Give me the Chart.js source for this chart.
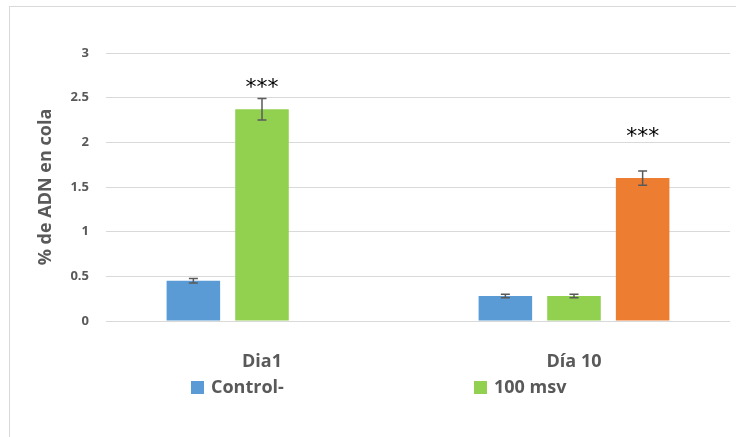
<!DOCTYPE html>
<html>
<head>
<meta charset="utf-8">
<script src="https://cdn.jsdelivr.net/npm/chart.js@4.4.1/dist/chart.umd.min.js"></script>
<style>
	html, body { margin: 0; padding: 0; background: #ffffff; overflow: hidden; }
	#frame {
		position: absolute; left: 9px; top: 6px; width: 800px; height: 500px;
		border-left: 1px solid #d9d9d9; border-top: 1px solid #d9d9d9;
	}
	#chart { position: absolute; left: 0; top: 0; }
</style>
</head>
<body>
<div id="frame"></div>
<canvas id="chart" width="736" height="437"></canvas>
<script>
	// Chart data
	const categories = ['Dia1', 'Día 10'];
	const controlValues = [0.45, 0.28];
	const msvValues = [2.37, 0.28];
	const day10Values = [null, 1.60];
	const controlErrors = [0.025, 0.02];
	const msvErrors = [0.12, 0.02];
	const day10Errors = [null, 0.08];
	const seriesLabels = ['Control-', '100 msv', '100 msv día 10'];
	const seriesColors = ['#5b9bd5', '#92d050', '#ed7d31'];
	const legendSeries = [0, 1];
	// significance marks: [dataset, category, text, value height]
	const starMarks = [[1, 0, '***', 2.64], [2, 1, '***', 2.09]];
	const yTicks = [0, 0.5, 1, 1.5, 2, 2.5, 3];

	const textColor = '#595959';
	const fontFamily = '"Open Sans", Lato, sans-serif';

	/**
	 * Draw error bars, significance marks and the legend.
	 */
	const extrasPlugin = {
		id: 'extras',
		afterDatasetsDraw: function(chart) {
			const ctx = chart.ctx;
			const y = chart.scales.y;
			const errors = [controlErrors, msvErrors, day10Errors];
			const values = [controlValues, msvValues, day10Values];

			ctx.save();
			ctx.strokeStyle = '#5a5a5a';
			ctx.lineWidth = 1.5;
			errors.forEach(function(errs, i) {
				const meta = chart.getDatasetMeta(i);
				errs.forEach(function(e, j) {
					if (e === null || values[i][j] === null) {
						return;
					}
					const x = meta.data[j].x;
					const top = y.getPixelForValue(values[i][j] + e);
					const bot = y.getPixelForValue(values[i][j] - e);
					ctx.beginPath();
					ctx.moveTo(x, top);
					ctx.lineTo(x, bot);
					ctx.moveTo(x - 4.5, top);
					ctx.lineTo(x + 4.5, top);
					ctx.moveTo(x - 4.5, bot);
					ctx.lineTo(x + 4.5, bot);
					ctx.stroke();
				});
			});

			// Significance stars
			ctx.fillStyle = '#000000';
			ctx.font = '22px "DejaVu Sans", sans-serif';
			ctx.textAlign = 'center';
			ctx.textBaseline = 'middle';
			starMarks.forEach(function(m) {
				const x = chart.getDatasetMeta(m[0]).data[m[1]].x;
				ctx.fillText(m[2], x, y.getPixelForValue(m[3]) + 3);
			});

			// Legend
			const legendX = [191, 474];
			const legendY = 388;
			ctx.font = 'bold 18px ' + fontFamily;
			ctx.textAlign = 'left';
			legendSeries.forEach(function(s, k) {
				ctx.fillStyle = seriesColors[s];
				ctx.fillRect(legendX[k], legendY - 7, 13, 13);
				ctx.fillStyle = textColor;
				ctx.fillText(seriesLabels[s], legendX[k] + 20, legendY);
			});
			ctx.restore();
		}
	};

	const ctx = document.getElementById('chart').getContext('2d');
	new Chart(ctx, {
		type: 'bar',
		data: {
			labels: categories,
			datasets: [controlValues, msvValues, day10Values].map(function(d, i) {
				return {
					label: seriesLabels[i],
					data: d,
					backgroundColor: seriesColors[i],
					borderWidth: 0,
					categoryPercentage: 0.66,
					barPercentage: 0.78
				};
			})
		},
		options: {
			responsive: false,
			animation: false,
			layout: {
				padding: { left: 0, right: 6, top: 53, bottom: 66 }
			},
			plugins: {
				legend: { display: false },
				tooltip: { enabled: false }
			},
			scales: {
				x: {
					grid: { display: false },
					border: { display: false },
					ticks: {
						color: textColor,
						padding: 22,
						font: { family: fontFamily, size: 18, weight: 'bold' }
					},
					afterFit: function(scale) {
						scale.height = 50;
					}
				},
				y: {
					min: 0,
					max: 3,
					afterBuildTicks: function(scale) {
						scale.ticks = yTicks.map(function(v) { return { value: v }; });
					},
					grid: {
						color: '#d9d9d9',
						lineWidth: 1,
						drawTicks: false
					},
					border: { display: false },
					ticks: {
						color: textColor,
						padding: 17,
						font: { family: fontFamily, size: 13, weight: 'bold' },
						callback: function(value) {
							return String(value);
						}
					},
					title: {
						display: true,
						text: '% de ADN en cola',
						color: textColor,
						padding: { top: 35 },
						font: { family: fontFamily, size: 18, weight: 'bold' }
					},
					afterFit: function(scale) {
						scale.width = 106;
					}
				}
			}
		},
		plugins: [extrasPlugin]
	});
</script>
</body>
</html>
